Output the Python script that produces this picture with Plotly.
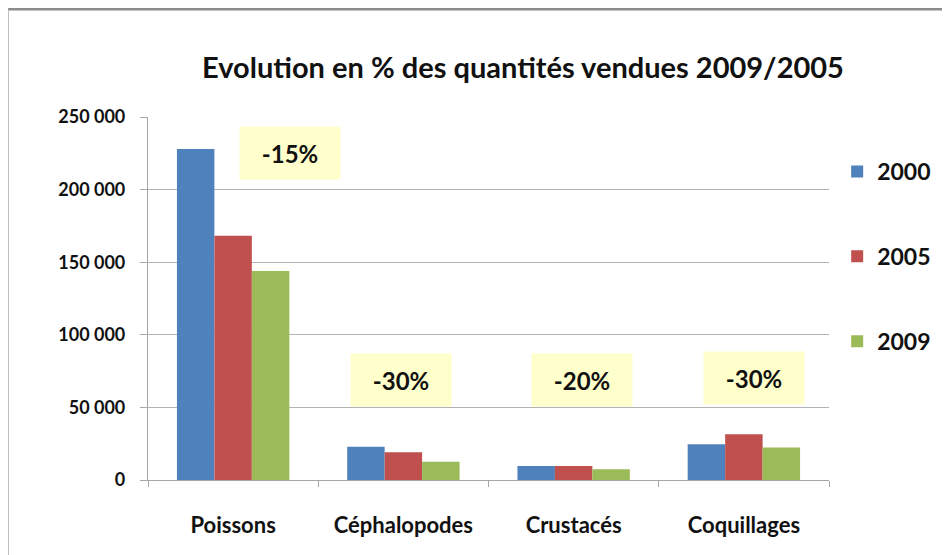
import plotly.graph_objects as go

categories = ["Poissons", "Céphalopodes", "Crustacés", "Coquillages"]
years = ["2000", "2005", "2009"]
values_2000 = [228000, 22900, 9600, 24600]
values_2005 = [168200, 19100, 9600, 31500]
values_2009 = [143900, 12600, 7400, 22300]
evolution_labels = ["-15%", "-30%", "-20%", "-30%"]
label_levels = [225000, 69000, 69000, 70000]
label_shifts = [57, -2, 8, 10]

colors = ["#4F81BD", "#C0504D", "#9BBB59"]
series = [values_2000, values_2005, values_2009]

OFF = 8  # page body margin
W, H = 950, 555
L, R, T, B = 148 - OFF, 950 - 829 + OFF, 117 - OFF, 555 - 480 + OFF
FONT = "Lato"

fig = go.Figure()
for i, (yr, vals) in enumerate(zip(years, series)):
    fig.add_trace(go.Bar(
        x=categories, y=vals, name=yr, legendgroup=yr,
        marker=dict(color=colors[i], line=dict(width=0)),
    ))

for cat, lab, lvl, sh in zip(categories, evolution_labels, label_levels, label_shifts):
    fig.add_annotation(
        x=cat, y=lvl, xref="x", yref="y", xshift=sh, text=lab, showarrow=False,
        width=98, height=50, bgcolor="#FFFFCC",
        font=dict(family=FONT, size=24, color="#111", weight="bold"),
        valign="middle",
    )

pw = W - L - R
ph = H - T - B
def px_x(p):
    return (p - OFF - L) / pw
def px_y(p):
    return (H - B - (p - OFF)) / ph

# chart frame (top and left edges)
fig.add_shape(type="line", xref="paper", yref="paper", x0=px_x(8), x1=px_x(960),
              y0=px_y(9), y1=px_y(9), line=dict(color="#8C8C8C", width=3))
fig.add_shape(type="line", xref="paper", yref="paper", x0=px_x(8), x1=px_x(8),
              y0=px_y(9), y1=px_y(570), line=dict(color="#AAAAAA", width=1.5))

fig.update_layout(
    width=W, height=H,
    margin=dict(l=L, r=R, t=T, b=B),
    paper_bgcolor="white", plot_bgcolor="white",
    separators=", ",
    barmode="group", bargap=0.34, bargroupgap=0,
    title=dict(text="Evolution en % des quantités vendues 2009/2005",
               x=px_x(523) * pw / W + L / W, xanchor="center",
               y=1 - (68 - OFF) / H, yanchor="middle",
               font=dict(family=FONT, size=29, color="#111", weight="bold")),
    font=dict(family=FONT, color="#111"),
    legend=dict(x=1.012, xanchor="left", y=px_y(150), yanchor="top",
                font=dict(family=FONT, size=23, color="#111", weight="bold"),
                tracegroupgap=52, bgcolor="rgba(0,0,0,0)", itemclick=False),
    showlegend=True,
)
fig.update_yaxes(range=[0, 250000], dtick=50000, tickformat=",d",
                 showgrid=True, gridcolor="#B3B3B3", gridwidth=1.2,
                 showline=True, linecolor="#A6A6A6", linewidth=1.2,
                 ticks="outside", ticklen=7, tickcolor="#A6A6A6", ticklabelstandoff=11,
                 tickfont=dict(family=FONT, size=18, color="#111", weight="bold"), zeroline=False)
fig.update_xaxes(showline=True, linecolor="#A6A6A6", linewidth=1.2,
                 ticks="outside", ticklen=6, tickcolor="#A6A6A6", tickson="boundaries",
                 ticklabelstandoff=25,
                 tickfont=dict(family=FONT, size=22, color="#111", weight="bold"))

fig.write_html("out.html")
